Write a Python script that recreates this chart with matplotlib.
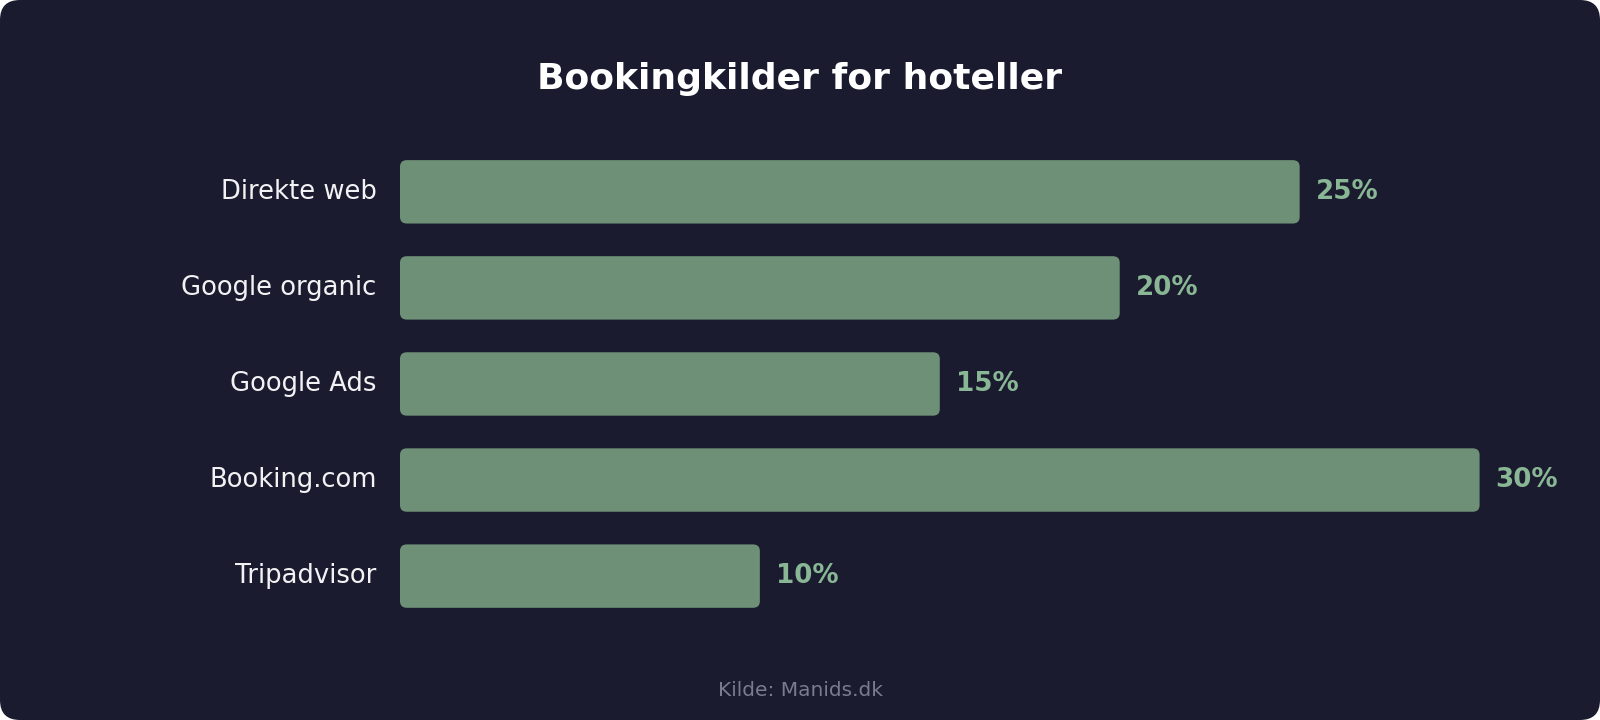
import matplotlib
matplotlib.use("Agg")
import matplotlib.pyplot as plt
from matplotlib.patches import FancyBboxPatch

plt.rcParams['font.family'] = ['DejaVu Sans']

categories = ["Direkte web", "Google organic", "Google Ads", "Booking.com", "Tripadvisor"]
values = [25, 20, 15, 30, 10]
value_labels = ["25%", "20%", "15%", "30%", "10%"]
title = "Bookingkilder for hoteller"
footer = "Kilde: Manids.dk"

BG = "#1a1b2e"
BAR = "#6e9077"
VAL = "#89b795"

W, H = 1568, 706
fig = plt.figure(figsize=(16, 7.2), dpi=100)
fig.patch.set_facecolor("white")
bgpatch = FancyBboxPatch((0, 0), 1, 1, boxstyle="round,pad=0,rounding_size=0.0125",
                         mutation_aspect=(20 / 720) / 0.0125,
                         transform=fig.transFigure, facecolor=BG, edgecolor="none", zorder=-10)
fig.patches.append(bgpatch)

ax = fig.add_axes([392 / W, 1 - 612 / H, (1450 - 392) / W, (612 - 141) / H])
ax.set_facecolor("none")
ax.set_xlim(0, 30)
ax.set_ylim(len(categories) - 0.5, -0.5)
for s in ax.spines.values():
    s.set_visible(False)
ax.set_xticks([])
ax.set_yticks([])

ypos = list(range(len(categories)))
bars = ax.barh(ypos, values, height=0.66, color=BAR)
for b, lab, cat in zip(bars, value_labels, categories):
    x, y, w, h = b.get_x(), b.get_y(), b.get_width(), b.get_height()
    b.remove()
    p = FancyBboxPatch((x, y), w, h, boxstyle="round,pad=0,rounding_size=0.19",
                       mutation_aspect=0.36, facecolor=BAR, edgecolor="none")
    ax.add_patch(p)
    yc = y + h / 2
    ax.annotate(lab, (x + w, yc), xytext=(16, 0), textcoords="offset pixels",
                ha="left", va="center", color=VAL, fontsize=18.8, fontweight="bold")
    ax.annotate(cat, (0, yc), xytext=(-23.5, 0), textcoords="offset pixels",
                ha="right", va="center", color="#f2f2f5", fontsize=18.6,
                annotation_clip=False)

fig.text(0.5, 1 - 77 / H, title, ha="center", va="center", color="white",
         fontsize=26, fontweight="bold")
fig.text(0.5, 1 - 677 / H, footer, ha="center", va="center", color="#7a7b8c",
         fontsize=14.5)

fig.savefig("out.png", dpi=100, facecolor=fig.get_facecolor())
